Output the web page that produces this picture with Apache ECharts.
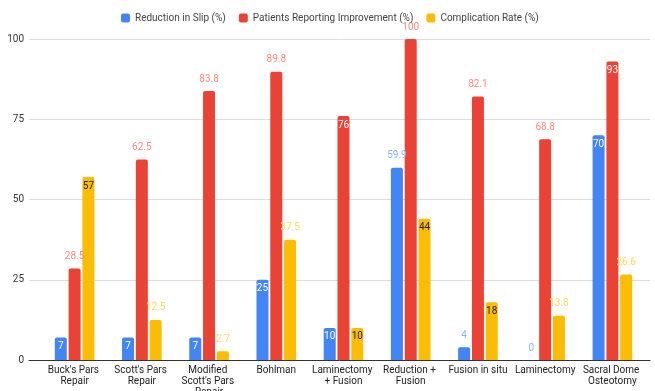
<!DOCTYPE html>
<html>
<head>
<meta charset="utf-8">
<script src="https://cdn.jsdelivr.net/npm/echarts@6/dist/echarts.min.js"></script>
<style>
	html, body { margin: 0; padding: 0; background: #fff; }
	#chart { width: 655px; height: 391px; }
</style>
</head>
<body>
<div id="chart"></div>
<script>
	let categories = ["Buck's Pars Repair", "Scott's Pars Repair", "Modified Scott's Pars Repair", 'Bohlman',
		'Laminectomy + Fusion', 'Reduction + Fusion', 'Fusion in situ', 'Laminectomy', 'Sacral Dome Osteotomy'];
	let slipReduction = [7, 7, 7, 25, 10, 59.9, 4, 0, 70];
	let improvement = [28.5, 62.5, 83.8, 89.8, 76, 100, 82.1, 68.8, 93];
	let complication = [57, 12.5, 2.7, 37.5, 10, 44, 18, 13.8, 26.6];
	let yTicks = [0, 25, 50, 75, 100];

	// label goes inside the bar when the text is short and the bar tall enough
	function withLabels(values, insideColor, outsideColor) {
		return values.map(v => {
			let inside = String(v).length <= 2 && v >= 5 && v !== 100;
			return {
				value: v,
				label: inside
					? { position: 'insideTop', distance: 4, color: insideColor }
					: { position: 'top', distance: 7, color: outsideColor }
			};
		});
	}

	function barSeries(name, values, color, insideColor, outsideColor) {
		return {
			name: name,
			type: 'bar',
			xAxisIndex: 1,
			yAxisIndex: 1,
			barWidth: 12,
			barGap: '15%',
			data: withLabels(values, insideColor, outsideColor),
			itemStyle: { color: color, borderRadius: [2, 2, 0, 0] },
			label: {
				show: true,
				fontFamily: 'Roboto',
				fontSize: 10
			}
		};
	}

	let yMin = yTicks[0], yMax = yTicks[yTicks.length - 1];

	let chart = echarts.init(document.getElementById('chart'));
	chart.setOption({
		animation: false,
		textStyle: { fontFamily: 'Roboto' },
		legend: {
			top: 8,
			left: 116,
			itemWidth: 9,
			itemHeight: 9,
			itemGap: 13,
			icon: 'roundRect',
			textStyle: { fontSize: 10, color: '#444' },
			data: ['Reduction in Slip (%)', 'Patients Reporting Improvement (%)', 'Complication Rate (%)']
		},
		// grid 0: gridlines, y labels, baseline; grid 1: bars, inset like the source
		grid: [
			{ left: 29, right: 5, top: 39, bottom: 31, outerBoundsMode: 'none' },
			{ left: 41, right: 9, top: 39, bottom: 31, outerBoundsMode: 'none' }
		],
		xAxis: [
			{
				type: 'category',
				gridIndex: 0,
				data: categories,
				axisTick: { show: false },
				axisLabel: { show: false },
				axisLine: { lineStyle: { color: '#333', width: 1 } }
			},
			{
				type: 'category',
				gridIndex: 1,
				data: categories,
				axisTick: { show: false },
				axisLine: { show: false },
				axisLabel: {
					interval: 0,
					fontSize: 10,
					color: '#222',
					margin: 5,
					lineHeight: 11,
					width: 64,
					overflow: 'break'
				}
			}
		],
		yAxis: [
			{
				type: 'value',
				gridIndex: 0,
				min: yMin,
				max: yMax,
				interval: 25,
				axisLine: { show: false },
				axisTick: { show: false },
				axisLabel: { fontSize: 10, color: '#333', margin: 5 },
				splitLine: { lineStyle: { color: '#ddd' } }
			},
			{
				type: 'value',
				gridIndex: 1,
				min: yMin,
				max: yMax,
				interval: 25,
				show: false,
				splitLine: { show: false }
			}
		],
		series: [
			barSeries('Reduction in Slip (%)', slipReduction, '#4285F4', '#fff', '#8AB4F8'),
			barSeries('Patients Reporting Improvement (%)', improvement, '#EA4335', '#fff', '#F28B82'),
			barSeries('Complication Rate (%)', complication, '#FBBC04', '#222', '#FDD663')
		]
	});
</script>
</body>
</html>
